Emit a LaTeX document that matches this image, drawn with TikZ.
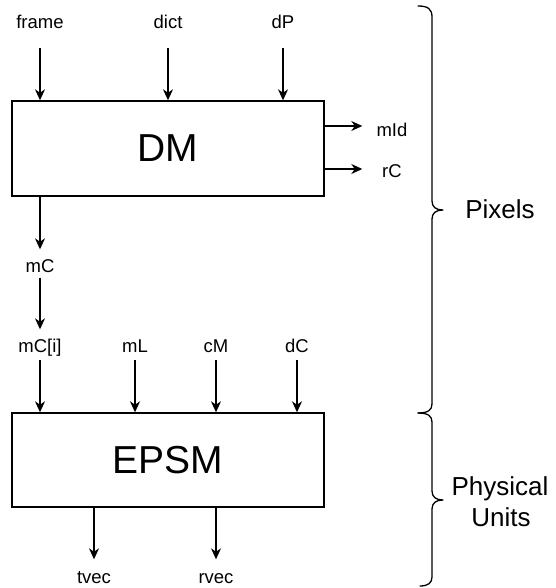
\documentclass[tikz,border=0pt]{standalone}
\usepackage{fontspec}
\setmainfont{Liberation Sans}
\usetikzlibrary{arrows.meta}
\begin{document}
\begin{tikzpicture}[x=1bp,y=-1bp, line width=1.4bp,
  lbl/.style={inner sep=0pt, text height=13bp, text depth=4bp, font=\fontsize{18.5bp}{21bp}\selectfont, anchor=base},
  blk/.style={draw, minimum width=312bp, inner sep=0pt, font=\fontsize{39bp}{45bp}\selectfont},
  arr/.style={-{Stealth[length=11bp,width=10bp,inset=3.5bp]}},
  brc/.style={inner sep=0pt, font=\fontsize{26bp}{31bp}\selectfont, anchor=base},
  brace/.style={line width=1.3bp, line cap=round, line join=round}]
\useasboundingbox (0,0) rectangle (556,588);

% blocks
\node[blk, minimum height=95bp] (dm) at (168,148.5) {DM};
\node[blk, minimum height=94bp] (epsm) at (168,460) {EPSM};

% top inputs
\node[lbl] (frame) at (40,28.5) {frame};
\node[lbl] (dict) at (168,28.5) {dict};
\node[lbl] (dP) at (283,28.5) {dP};
\foreach \n in {frame,dict,dP}
  \draw[arr, shorten <=14.5bp] (\n.south) -- (\n.south |- dm.north);

% right outputs
\coordinate (midy) at (0,126);
\coordinate (rcy) at (0,169);
\node[lbl, minimum width=32bp] (mid) at (392,137) {mId};
\node[lbl, minimum width=32bp] (rC) at (392,177) {rC};
\draw[arr, shorten >=13bp] (dm.east |- midy) -- (mid.west |- midy);
\draw[arr, shorten >=13bp] (dm.east |- rcy) -- (rC.west |- rcy);

% mC chain
\node[lbl] (mC) at (40,272) {mC};
\node[lbl] (mCi) at (40,352.5) {mC[i]};
\node[lbl] (mL) at (135,352.5) {mL};
\node[lbl] (cM) at (216,352.5) {cM};
\node[lbl] (dC) at (297,352.5) {dC};
\draw[arr, shorten >=9bp] (dm.south -| mC.north) -- (mC.north);
\draw[arr, shorten <=1bp, shorten >=9.5bp] (mC.south) -- (mCi.north);
\foreach \n in {mCi,mL,cM,dC}
  \draw[arr, shorten <=3bp] (\n.south) -- (\n.south |- epsm.north);

% outputs of EPSM
\node[lbl] (tvec) at (94,583) {tvec};
\node[lbl] (rvec) at (216,583) {rvec};
\foreach \n in {tvec,rvec}
  \draw[arr, shorten >=10bp] (\n.north |- epsm.south) -- (\n.north);

% braces
\draw[brace] (418,6) .. controls (428,6) and (432,9) .. (432,17) -- (432,201)
  .. controls (432,207) and (436,210) .. (443,210)
  .. controls (436,210) and (432,213) .. (432,219) -- (432,404)
  .. controls (432,410) and (428,413) .. (418,413);
\draw[brace] (418,413) .. controls (428,413) and (432,416) .. (432,422) -- (432,491)
  .. controls (432,497) and (436,500) .. (443,500)
  .. controls (436,500) and (432,503) .. (432,509) -- (432,577)
  .. controls (432,583) and (428,586) .. (420,586);

\node[brc] (pix) at (500,218) {Pixels};
\node[brc] (phys) at (500,495) {Physical};
\node[brc] (units) at (501,526) {Units};
\end{tikzpicture}
\end{document}
